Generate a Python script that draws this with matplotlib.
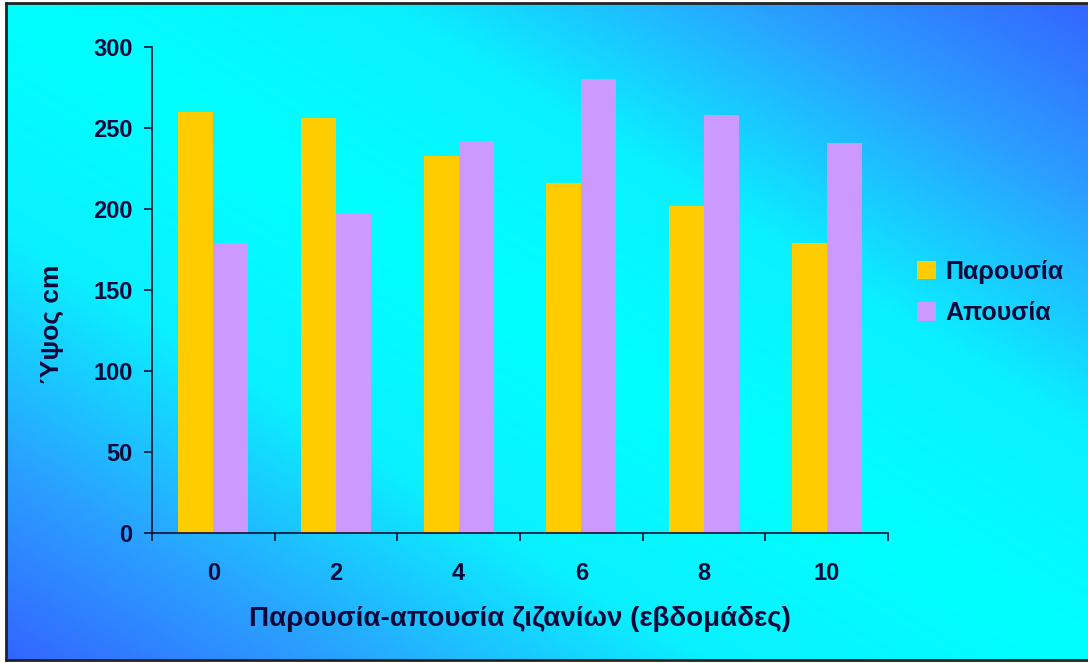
import numpy as np
import matplotlib
matplotlib.use("Agg")
import matplotlib.pyplot as plt
from matplotlib.colors import LinearSegmentedColormap
from matplotlib.ticker import FixedLocator

weeks = ["0", "2", "4", "6", "8", "10"]
presence = [260, 256, 233, 216, 202, 179]
absence = [179, 197, 242, 280, 258, 241]
series_names = ["Παρουσία", "Απουσία"]

plt.rcParams["font.family"] = ["Liberation Sans", "DejaVu Sans"]
plt.rcParams["font.weight"] = "bold"
text_c = "#0a0a3a"

fig = plt.figure(figsize=(10.88, 6.63), dpi=100, facecolor="white")

# ── background: diagonal blue → cyan → blue gradient with a dark frame ───────
bg = fig.add_axes([6 / 1088, 3 / 663, 1 - 6 / 1088, 657 / 663], zorder=0)
u = np.linspace(0, 1, 400)[None, :]
v = np.linspace(0, 1, 250)[:, None]
t = np.abs(u + v - 1.0)
cmap_bg = LinearSegmentedColormap.from_list(
    "bg", [(0.0, "#00ffff"), (0.35, "#0af0ff"), (0.7, "#2aa0ff"), (1.0, "#3366ff")])
bg.imshow(t, cmap=cmap_bg, vmin=0, vmax=1, origin="lower", aspect="auto",
          extent=[0, 1, 0, 1], interpolation="bilinear")
bg.set_xticks([])
bg.set_yticks([])
for side in ["left", "top", "bottom"]:
    bg.spines[side].set_color("#222222")
    bg.spines[side].set_linewidth(2)
bg.spines["right"].set_visible(False)

# ── bar chart ────────────────────────────────────────────────────────────────
ax = fig.add_axes([152 / 1088, 1 - 533 / 663, (888 - 152) / 1088, (533 - 47) / 663],
                  zorder=1)
ax.patch.set_alpha(0)
x = np.arange(len(weeks))
w = 0.285
ax.bar(x - w / 2, presence, width=w, color="#ffcc00", label=series_names[0])
ax.bar(x + w / 2, absence, width=w, color="#cc99ff", label=series_names[1])

ax.set_xlim(-0.5, len(weeks) - 0.5)
ax.set_ylim(0, 300)
ax.set_yticks(np.arange(0, 301, 50))
ax.set_xticks(x)
ax.set_xticklabels(weeks)
ax.xaxis.set_minor_locator(FixedLocator(np.arange(-0.5, len(weeks), 1.0)))
ax.tick_params(axis="x", which="major", length=0, pad=21, labelsize=17,
               labelcolor=text_c)
ax.tick_params(axis="x", which="minor", length=6, width=1.2, color="#111133",
               direction="out")
ax.tick_params(axis="y", length=6, width=1.2, color="#111133", pad=8,
               labelsize=17, labelcolor=text_c)
for side in ["top", "right"]:
    ax.spines[side].set_visible(False)
for side in ["left", "bottom"]:
    ax.spines[side].set_color("#111133")
    ax.spines[side].set_linewidth(1.2)

ax.set_xlabel("Παρουσία-απουσία ζιζανίων (εβδομάδες)", fontsize=20,
              fontweight="bold", color=text_c, labelpad=15)
ax.set_ylabel("Ύψος cm", fontsize=19, fontweight="bold", color=text_c)
ax.yaxis.set_label_coords(-0.120, 0.43)

leg = ax.legend(loc="center left", bbox_to_anchor=(1.009, 0.495), frameon=False,
                fontsize=18, handlelength=0.75, handleheight=0.75,
                handletextpad=0.4, labelspacing=0.7)
for txt in leg.get_texts():
    txt.set_color(text_c)
    txt.set_fontweight("bold")

plt.savefig("out.png", dpi=100, facecolor="white")
